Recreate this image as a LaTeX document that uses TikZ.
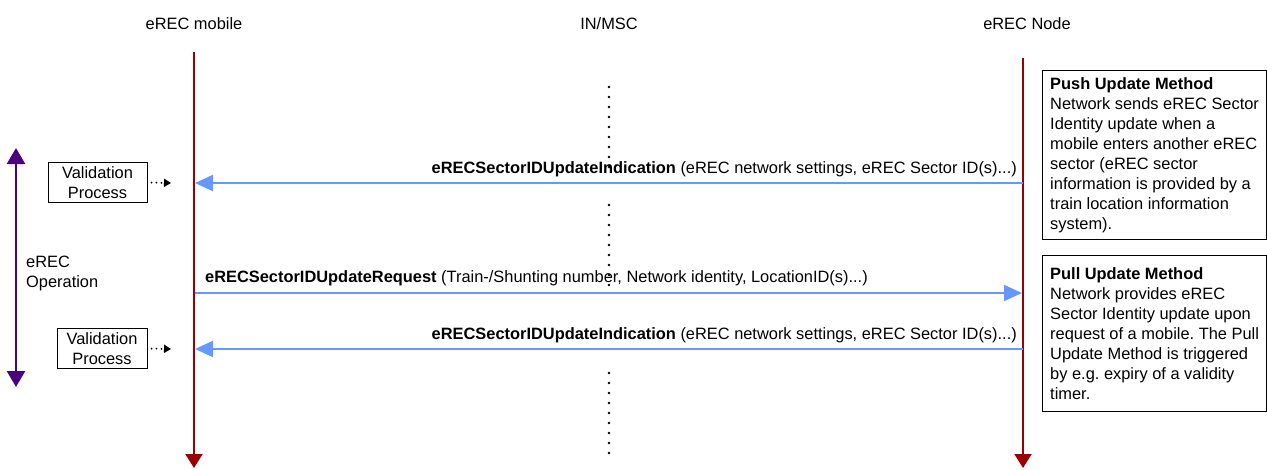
\documentclass[tikz,border=0pt]{standalone}
\usepackage{fontspec}
\setmainfont{Liberation Sans}
\usetikzlibrary{arrows.meta,positioning}
\definecolor{lifered}{RGB}{153,0,0}
\definecolor{msgblue}{RGB}{102,153,255}
\definecolor{oppurple}{RGB}{75,0,130}
\frenchspacing

\begin{document}
\begin{tikzpicture}[x=1pt,y=-1pt,
  every node/.style={font=\fontsize{16.4}{20}\selectfont},
  life/.style={draw=lifered,line width=2pt,-{Triangle[length=14pt,width=17pt]}},
  msg/.style={draw=msgblue,line width=2pt,-{Triangle[length=18pt,width=16pt]}},
  msglab/.style={inner sep=0pt},
  valbox/.style={draw,line width=1pt,align=center,inner xsep=0pt,inner ysep=2pt,minimum height=40pt},
  note/.style={draw,line width=1.2pt,align=left,anchor=north west,minimum width=224pt},
  dotline/.style={line width=2.6pt,line cap=round,dash pattern=on 0pt off 10pt},
  hint/.style={line width=2pt,line cap=round,dash pattern=on 0pt off 5pt,-{Triangle[length=7pt,width=8pt]}}]
\useasboundingbox (0,0) rectangle (1267,469);

\node (mobhead) at (194,24) {eREC mobile};
\node (mschead) at (609,24) {IN/MSC};
\node (nodehead) at (1027,24) {eREC Node};

\coordinate (mobtop) at (194,52);
\coordinate (mobend) at (194,468);
\coordinate (nodetop) at (1023,58);
\coordinate (nodeend) at (1023,468);
\draw[life] (mobtop) -- (mobend);
\draw[life] (nodetop) -- (nodeend);

\draw[dotline] (609,87) -- (609,177);
\draw[dotline] (609,205) -- (609,295);
\draw[dotline] (609,373) -- (609,463);

\coordinate (ind1n) at (1023,183);
\coordinate (ind1m) at (195,183);
\coordinate (reqm) at (195,293);
\coordinate (reqn) at (1022,293);
\coordinate (ind2n) at (1023,349);
\coordinate (ind2m) at (195,349);
\draw[msg] (ind1n) -- (ind1m);
\draw[msg] (reqm) -- (reqn);
\draw[msg] (ind2n) -- (ind2m);

\node[msglab,anchor=base east] (ind1lab) at (1017,173)
  {\textbf{eRECSectorIDUpdateIndication} (eREC network settings, eREC Sector ID(s)...)};
\node[msglab,anchor=base west] (reqlab) at (205,282)
  {\textbf{eRECSectorIDUpdateRequest} (Train-/Shunting number, Network identity, LocationID(s)...)};
\node[msglab,anchor=base east] (ind2lab) at (1017,339)
  {\textbf{eRECSectorIDUpdateIndication} (eREC network settings, eREC Sector ID(s)...)};

\node[valbox,minimum width=99pt] (val1) at (97.5,182.5) {Validation\\Process};
\node[valbox,minimum width=90pt] (val2) at (102,348.5) {Validation\\Process};
\coordinate (val1tip) at (171,183);
\coordinate (val2tip) at (171,349);
\draw[hint] ([xshift=4pt]val1.east) -- (val1tip);
\draw[hint] ([xshift=4pt]val2.east) -- (val2tip);

\coordinate (optop) at (16,148);
\coordinate (opend) at (16,387);
\draw[draw=oppurple,line width=2.4pt,{Triangle[length=16pt,width=18pt]}-{Triangle[length=16pt,width=18pt]}] (optop) -- (opend);
\node[anchor=west,align=left,inner sep=0pt] (oplab) at (26,273) {eREC\\Operation};

\node[note,minimum height=169pt] (push) at (1042,70)
  {\textbf{Push Update Method}\\Network sends eREC Sector\\Identity update when a\\mobile enters another eREC\\sector (eREC sector\\information is provided by a\\train location information\\system).};
\node[note,minimum height=156pt] (pull) at (1042,255)
  {\textbf{Pull Update Method}\\Network provides eREC\\Sector Identity update upon\\request of a mobile. The Pull\\Update Method is triggered\\by e.g. expiry of a validity\\timer.};
\end{tikzpicture}
\end{document}
